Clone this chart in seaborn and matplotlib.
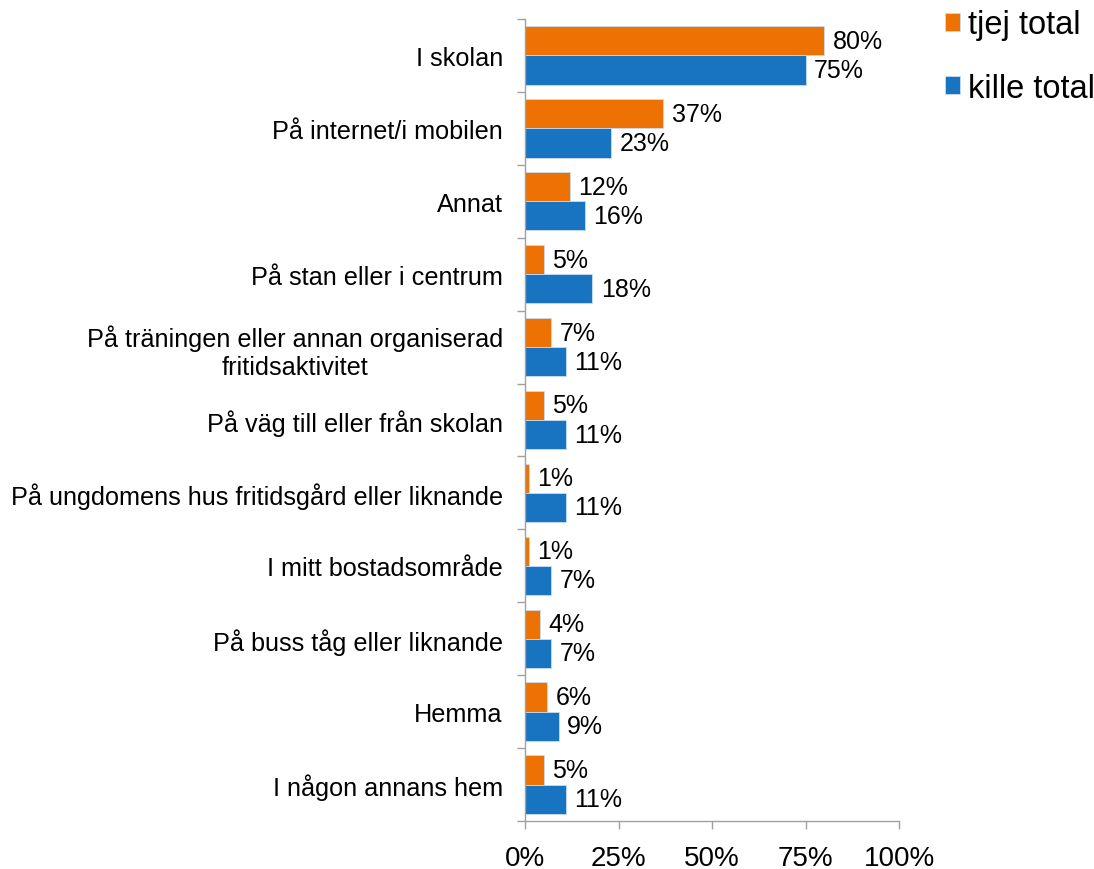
import matplotlib
matplotlib.use("Agg")
import matplotlib.pyplot as plt
import seaborn as sns
import pandas as pd
import numpy as np
from matplotlib.ticker import FixedLocator, PercentFormatter

categories = [
    "I skolan",
    "På internet/i mobilen",
    "Annat",
    "På stan eller i centrum",
    "På träningen eller annan organiserad\nfritidsaktivitet",
    "På väg till eller från skolan",
    "På ungdomens hus fritidsgård eller liknande",
    "I mitt bostadsområde",
    "På buss tåg eller liknande",
    "Hemma",
    "I någon annans hem",
]
tjej_total = [80, 37, 12, 5, 7, 5, 1, 1, 4, 6, 5]
kille_total = [75, 23, 16, 18, 11, 11, 11, 7, 7, 9, 11]
series_names = ["tjej total", "kille total"]
x_ticks = [0, 25, 50, 75, 100]

df = pd.DataFrame({
    "kategori": categories * 2,
    "serie": [series_names[0]] * len(categories) + [series_names[1]] * len(categories),
    "värde": tjej_total + kille_total,
})

sns.set_theme(style="white")
plt.rcParams["font.family"] = ["Liberation Sans", "DejaVu Sans"]
plt.rcParams["text.color"] = "black"
plt.rcParams["xtick.color"] = "black"
plt.rcParams["ytick.color"] = "black"

fig = plt.figure(figsize=(10.94, 8.70), dpi=100)
ax = fig.add_axes([0.4799, 0.0552, 0.3419, 0.9218])

palette = {"tjej total": "#EE7203", "kille total": "#1874C1"}
sns.barplot(data=df, y="kategori", x="värde", hue="serie", order=categories,
            hue_order=series_names, palette=palette, orient="h", width=0.8,
            saturation=1, edgecolor="#C8DDF0", linewidth=0.6, ax=ax)

for cont in ax.containers:
    ax.bar_label(cont, labels=[f"{v:.0f}%" for v in cont.datavalues],
                 padding=6, fontsize=18, color="black")

ax.set_xlim(0, 100)
ax.set_ylim(len(categories) - 0.5, -0.5)
ax.xaxis.set_major_locator(FixedLocator(x_ticks))
ax.xaxis.set_major_formatter(PercentFormatter(100, decimals=0))
ax.tick_params(axis="x", labelsize=20, length=6, width=1, color="#A0A0A0",
               labelcolor="black", direction="out", pad=11, bottom=True)
ax.set_yticks(range(len(categories)))
ax.set_yticklabels(categories, fontsize=18.2, multialignment="center")
ax.yaxis.set_minor_locator(FixedLocator(np.arange(-0.5, len(categories), 1.0)))
ax.tick_params(axis="y", which="major", length=0, pad=16, labelcolor="black")
ax.tick_params(axis="y", which="minor", length=6, width=1, color="#A0A0A0",
               direction="out", left=True)
ax.set_xlabel("")
ax.set_ylabel("")

for s in ["top", "right"]:
    ax.spines[s].set_visible(False)
for s in ["left", "bottom"]:
    ax.spines[s].set_color("#A0A0A0")
    ax.spines[s].set_linewidth(1)

handles, labels = ax.get_legend_handles_labels()
leg = ax.legend(handles, labels, loc="upper left", bbox_to_anchor=(0.8638, 0.988),
                bbox_transform=fig.transFigure, frameon=False, fontsize=23.5,
                handlelength=0.47, handleheight=0.47, handletextpad=0.22,
                labelspacing=1.0, borderaxespad=0, borderpad=0)
for t in leg.get_texts():
    t.set_color("black")

fig.savefig("out.png", dpi=100)
